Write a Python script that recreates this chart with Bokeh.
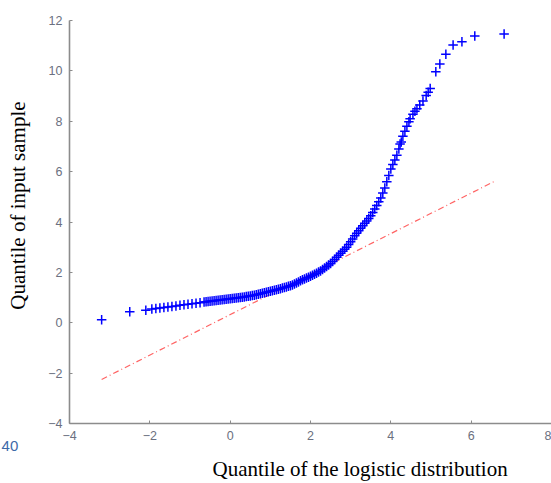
import math
from bokeh.plotting import figure
from bokeh.models import Range1d, FixedTicker, Label, ColumnDataSource
from bokeh.embed import file_html
from bokeh.resources import INLINE

# Sample quantiles (y) against logistic distribution quantiles (x)
qq_x = [-3.2, -2.5, -2.1, -1.95, -1.85, -1.75, -1.65, -1.55, -1.45, -1.35, -1.25, -1.15,
        -1.05, -0.95, -0.85, -0.75, -0.65,
        -0.60, -0.55, -0.50, -0.45, -0.40, -0.35, -0.30, -0.25, -0.20, -0.15, -0.10, -0.05,
        0.00, 0.05, 0.10, 0.15, 0.20, 0.25, 0.30, 0.35, 0.40, 0.45, 0.50, 0.55, 0.60, 0.65,
        0.70, 0.75, 0.80, 0.85, 0.90, 0.95, 1.00, 1.05, 1.10, 1.15, 1.20, 1.25, 1.30, 1.35,
        1.40, 1.45, 1.50, 1.55, 1.60, 1.65, 1.70, 1.75, 1.80, 1.85, 1.90, 1.95, 2.00, 2.05,
        2.10, 2.15, 2.20, 2.25, 2.30, 2.35, 2.40, 2.45, 2.50, 2.55, 2.60, 2.65, 2.70, 2.75,
        2.80, 2.85, 2.90, 2.95, 3.00, 3.05, 3.10, 3.15, 3.20, 3.25, 3.30, 3.35, 3.40, 3.45,
        3.50, 3.55, 3.60, 3.65, 3.70, 3.75, 3.80, 3.85, 3.90, 3.95, 4.00, 4.05, 4.10, 4.15,
        4.20, 4.23, 4.26, 4.30, 4.35, 4.40, 4.45, 4.48, 4.55, 4.60, 4.65, 4.72, 4.80, 4.88,
        4.93, 4.98, 5.12, 5.22, 5.37, 5.55, 5.77, 6.09, 6.82]
qq_y = [0.12, 0.44, 0.50, 0.55, 0.57, 0.59, 0.61, 0.63, 0.65, 0.67, 0.69, 0.71,
        0.73, 0.75, 0.77, 0.79, 0.82,
        0.83, 0.84, 0.85, 0.86, 0.87, 0.88, 0.89, 0.90, 0.91, 0.92, 0.93, 0.94,
        0.95, 0.96, 0.97, 0.98, 0.99, 1.00, 1.01, 1.02, 1.04, 1.05, 1.06, 1.08, 1.09, 1.11,
        1.13, 1.15, 1.17, 1.19, 1.21, 1.23, 1.25, 1.27, 1.29, 1.31, 1.33, 1.35, 1.38, 1.40,
        1.42, 1.45, 1.47, 1.50, 1.54, 1.58, 1.62, 1.67, 1.71, 1.74, 1.78, 1.81, 1.85, 1.89,
        1.93, 1.97, 2.01, 2.05, 2.11, 2.17, 2.23, 2.29, 2.35, 2.43, 2.51, 2.60, 2.68, 2.76,
        2.84, 2.92, 3.00, 3.11, 3.22, 3.33, 3.45, 3.55, 3.65, 3.75, 3.85, 3.95, 4.04, 4.14,
        4.25, 4.38, 4.52, 4.66, 4.80, 4.95, 5.15, 5.35, 5.60, 5.85, 6.10, 6.28, 6.46, 6.65,
        6.90, 7.10, 7.18, 7.40, 7.60, 7.80, 7.98, 8.10, 8.28, 8.40, 8.50, 8.65, 8.80, 9.02,
        9.15, 9.30, 9.97, 10.27, 10.66, 11.03, 11.16, 11.38, 11.46]

# Reference line (through the quartiles)
ref_x = [-3.2, 6.6]
ref_y = [-2.25, 5.63]

x_ticks = [-4, -2, 0, 2, 4, 6, 8]
y_ticks = [-4, -2, 0, 2, 4, 6, 8, 10, 12]

x_label = "Quantile of the logistic distribution"
y_label = "Quantile of input sample"
stray_text = "40"

# The frame fills the whole canvas; the axes sit at fixed data positions inside it.
p = figure(width=551, height=483, output_backend="svg", toolbar_location=None,
           x_range=Range1d(-5.718, 8.0), y_range=Range1d(-6.382, 12.794),
           min_border=0, min_border_left=0, min_border_right=0,
           min_border_top=0, min_border_bottom=0)
p.outline_line_color = None
p.xgrid.visible = False
p.ygrid.visible = False
p.background_fill_color = "white"
p.border_fill_color = "white"

xa = p.xaxis[0]
ya = p.yaxis[0]
xa.fixed_location = y_ticks[0]
xa.bounds = (x_ticks[0], x_ticks[-1])
ya.fixed_location = x_ticks[0]
ya.bounds = (y_ticks[0], y_ticks[-1])

for ax, ticks in ((xa, x_ticks), (ya, y_ticks)):
    ax.ticker = FixedTicker(ticks=ticks)
    ax.axis_line_color = "#8c8c8c"
    ax.axis_line_width = 1.6
    ax.major_tick_line_color = "#8c8c8c"
    ax.major_tick_in = 3
    ax.major_tick_out = 0
    ax.minor_tick_line_color = None
    ax.major_label_text_font = "Liberation Sans"
    ax.major_label_text_font_size = "12.5px"
    ax.major_label_text_color = "#6b7080"
xa.major_label_standoff = 7
ya.major_label_standoff = 7

p.line(ref_x, ref_y, line_color="#ff3030", line_alpha=0.75, line_width=1.2,
       line_dash="6 3 1 3")

src = ColumnDataSource(data=dict(x=qq_x, y=qq_y))
p.scatter("x", "y", source=src, marker="cross", size=9.5, line_color="#0000ff",
          line_width=1.5)

p.add_layout(Label(x=-0.44, y=-5.826, text=x_label,
                   text_font="Liberation Serif", text_font_size="21px",
                   text_color="black", text_align="left", text_baseline="middle"))
p.add_layout(Label(x=-5.27, y=4.654, text=y_label,
                   angle=math.pi / 2, text_font="Liberation Serif", text_font_size="21px",
                   text_color="black", text_align="center", text_baseline="middle"))
p.add_layout(Label(x=-5.69, y=-4.913, text=stray_text,
                   text_font="Liberation Sans", text_font_size="15px",
                   text_color="#3d6aa8", text_align="left", text_baseline="middle"))

open("out.html", "w").write(file_html(p, INLINE))
